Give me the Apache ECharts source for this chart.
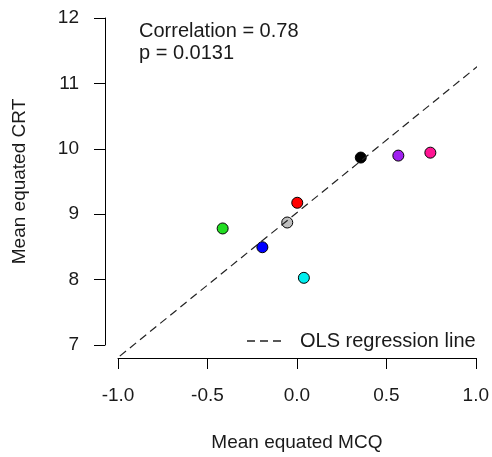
<!DOCTYPE html>
<html>
<head>
<meta charset="utf-8">
<script src="https://cdn.jsdelivr.net/npm/echarts@6/dist/echarts.min.js"></script>
<style>
  html, body { margin: 0; padding: 0; background: #fff; }
  #chart { width: 492px; height: 457px; }
</style>
</head>
<body>
<div id="chart"></div>
<script>
// values
var mcq = [0.724, 0.357, 0.567, 0.746, 0.002, -0.054, -0.415, -0.193, 0.039];
var crt = [12.08, 9.866, 9.896, 9.941, 9.175, 8.873, 8.782, 8.495, 8.027];
var pointColors = ['#FFA500', '#000000', '#A020F0', '#FF1493', '#FF0000', '#BEBEBE', '#22DD22', '#0000FF', '#00EEEE'];
// ends of the OLS line as drawn
var olsX = [-0.99, 1.05];
var olsY = [6.83, 11.35];
var xTicks = [-1.0, -0.5, 0.0, 0.5, 1.0];
var yTicks = [7, 8, 9, 10, 11, 12];

var points = [];
for (var i = 0; i < mcq.length; i++) {
  points.push([mcq[i], crt[i]]);
}
var olsLine = [];
for (var j = 0; j < olsX.length; j++) {
  olsLine.push([olsX[j], olsY[j]]);
}

var txt = '#1a1a1a';
var fontFam = '"Liberation Sans", Arial, sans-serif';
// three dashes, like R's lty = 2 key
var dashIcon = 'path://M0,0H8V1.4H0Z M13,0H21V1.4H13Z M26,0H34V1.4H26Z';

var chart = echarts.init(document.getElementById('chart'));
var option = {
  animation: false,
  backgroundColor: '#fff',
  textStyle: { fontFamily: fontFam },
  grid: { left: 118, right: 14, top: 18, bottom: 108, containLabel: false },
  xAxis: {
    type: 'value',
    min: xTicks[0],
    max: xTicks[xTicks.length - 1],
    interval: 0.5,
    offset: 13,
    name: 'Mean equated MCQ',
    nameLocation: 'middle',
    nameGap: 75,
    nameTextStyle: { fontSize: 19, color: txt, fontFamily: fontFam },
    axisLine: { show: true, onZero: false, lineStyle: { color: '#000', width: 1 } },
    axisTick: { show: true, inside: false, length: 11, lineStyle: { color: '#000' } },
    axisLabel: {
      fontSize: 19, color: txt, margin: 28, fontFamily: fontFam,
      formatter: function (v) { return v.toFixed(1); }
    },
    splitLine: { show: false }
  },
  yAxis: {
    type: 'value',
    min: yTicks[0],
    max: yTicks[yTicks.length - 1],
    interval: 1,
    offset: 13,
    name: 'Mean equated CRT',
    nameLocation: 'middle',
    nameRotate: 90,
    nameGap: 76,
    nameTextStyle: { fontSize: 19, color: txt, fontFamily: fontFam },
    axisLine: { show: true, onZero: false, lineStyle: { color: '#000', width: 1 } },
    axisTick: { show: true, inside: false, length: 11, lineStyle: { color: '#000' } },
    axisLabel: { fontSize: 19, color: txt, margin: 26, fontFamily: fontFam },
    splitLine: { show: false }
  },
  legend: {
    data: [{ name: 'OLS regression line', icon: dashIcon }],
    left: 247,
    top: 331,
    padding: 0,
    itemWidth: 34,
    itemHeight: 22,
    itemStyle: { color: '#222', borderWidth: 0 },
    textStyle: { fontSize: 20, color: txt, fontFamily: fontFam, padding: [0, 0, 0, 14] }
  },
  graphic: [{
    type: 'text',
    left: 139,
    top: 20,
    style: {
      text: 'Correlation = 0.78\np = 0.0131',
      font: '20px ' + fontFam,
      lineHeight: 22,
      fill: txt
    }
  }],
  series: [
    {
      name: 'points',
      type: 'scatter',
      data: points,
      symbol: 'circle',
      symbolSize: 11,
      z: 2,
      itemStyle: {
        color: function (p) { return pointColors[p.dataIndex]; },
        borderColor: '#000',
        borderWidth: 1,
        opacity: 1
      }
    },
    {
      name: 'OLS regression line',
      type: 'line',
      data: olsLine,
      symbol: 'none',
      clip: false,
      z: 3,
      lineStyle: { color: '#222', width: 1.2, type: [8, 5] },
      itemStyle: { color: '#222' }
    }
  ]
};
chart.setOption(option);
</script>
</body>
</html>
